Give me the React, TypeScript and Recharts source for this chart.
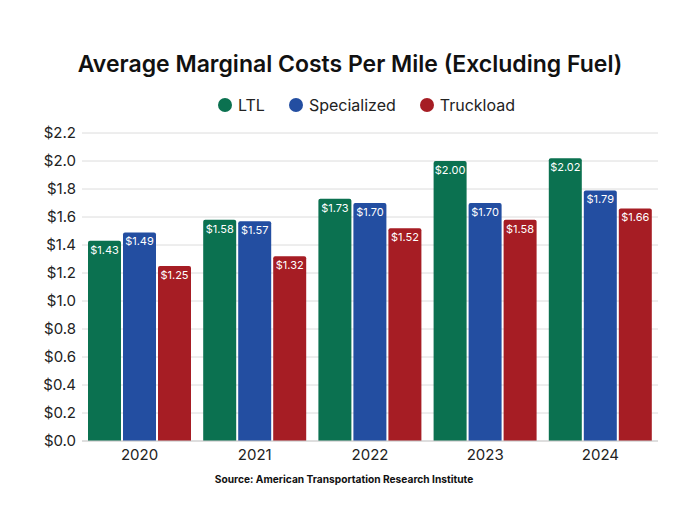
import React from 'react'
import { BarChart, Bar, XAxis, YAxis, CartesianGrid, LabelList } from 'recharts'

const years = ['2020', '2021', '2022', '2023', '2024']
const ltl = [1.43, 1.58, 1.73, 2.0, 2.02]
const specialized = [1.49, 1.57, 1.7, 1.7, 1.79]
const truckload = [1.25, 1.32, 1.52, 1.58, 1.66]
const yTicks = [0, 0.2, 0.4, 0.6, 0.8, 1.0, 1.2, 1.4, 1.6, 1.8, 2.0, 2.2]

const COLORS = { ltl: '#0b7150', specialized: '#234ea1', truckload: '#a61d24' }
const FONT = 'Inter, "Noto Sans", sans-serif'

const data = years.map((y, i) => ({
  year: y,
  ltl: ltl[i],
  specialized: specialized[i],
  truckload: truckload[i],
}))

const series = [
  { key: 'ltl', name: 'LTL', color: COLORS.ltl },
  { key: 'specialized', name: 'Specialized', color: COLORS.specialized },
  { key: 'truckload', name: 'Truckload', color: COLORS.truckload },
]

const money2 = (v: number) => '$' + Number(v).toFixed(2)

export default function App() {
  return (
    <div style={{ position: 'absolute', left: 0, top: 0, width: 684, height: 513, background: '#fff', fontFamily: FONT }}>
      <div style={{ position: 'absolute', top: 50, left: 0, width: 700, textAlign: 'center', fontSize: 23, fontWeight: 600, color: '#111' }}>
        Average Marginal Costs Per Mile (Excluding Fuel)
      </div>
      {/* legend */}
      <div style={{ position: 'absolute', top: 95, left: 218, display: 'flex', alignItems: 'center', fontSize: 16, color: '#222' }}>
        {series.map(s => (
          <div key={s.key} style={{ display: 'flex', alignItems: 'center', marginRight: 24 }}>
            <div style={{ width: 14, height: 14, borderRadius: 7, background: s.color, marginRight: 6 }} />
            <span>{s.name}</span>
          </div>
        ))}
      </div>
      <div style={{ position: 'absolute', left: 0, top: 0 }}>
        <BarChart
          width={684}
          height={513}
          data={data}
          margin={{ top: 133, right: 26, left: 22, bottom: 42 }}
          barCategoryGap={6}
          barGap={2}
        >
          <CartesianGrid vertical={false} stroke="#dcdcdc" />
          <XAxis
            dataKey="year"
            height={30}
            tickLine={false}
            axisLine={{ stroke: '#cfcfcf' }}
            tick={{ fontSize: 15, fill: '#222', fontFamily: FONT }}
          />
          <YAxis
            width={60}
            domain={[0, 2.2]}
            ticks={yTicks}
            interval={0}
            tickLine={false}
            axisLine={false}
            tickMargin={0}
            tickFormatter={(v: number) => '$' + v.toFixed(1)}
            tick={{ fontSize: 15, fill: '#222', fontFamily: FONT }}
          />
          {series.map(s => (
            <Bar key={s.key} dataKey={s.key} fill={s.color} radius={[2, 2, 0, 0]} isAnimationActive={false}>
              <LabelList
                dataKey={s.key}
                position="insideTop"
                formatter={(v: any) => money2(v)}
                style={{ fill: '#fff', fontSize: 11, fontFamily: FONT }}
              />
            </Bar>
          ))}
        </BarChart>
      </div>
      <div style={{ position: 'absolute', top: 473, left: 0, width: 688, textAlign: 'center', fontSize: 10.2, fontWeight: 700, color: '#111' }}>
        Source: American Transportation Research Institute
      </div>
    </div>
  )
}
